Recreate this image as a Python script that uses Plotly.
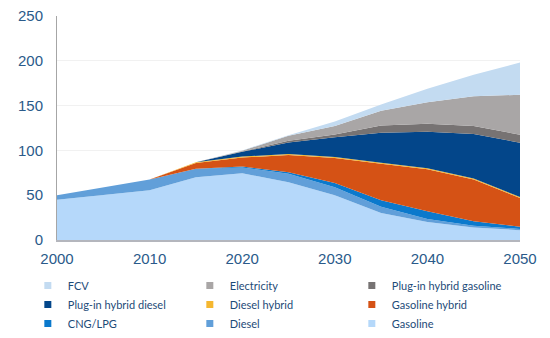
import plotly.graph_objects as go

years = [2000, 2010, 2015, 2020, 2025, 2030, 2035, 2040, 2045, 2050]

gasoline = [45, 55.5, 70, 74.5, 64.5, 50, 30, 20, 14, 11]
diesel = [5, 12, 9.5, 6.5, 9.5, 9, 7, 3.5, 2, 1.3]
cng_lpg = [0, 0, 0, 1, 1.5, 4.5, 7.5, 8.5, 5, 2.5]
gasoline_hybrid = [0, 0, 6.5, 10, 19.5, 28, 40.5, 47, 46.5, 32]
diesel_hybrid = [0, 0, 0.8, 1.1, 1.1, 1.1, 1.1, 1.1, 1.1, 1.1]
plugin_diesel = [0, 0, 0, 5.3, 12.7, 22.2, 33.7, 40.7, 49.7, 60.7]
plugin_gasoline = [0, 0, 0, 0.8, 2, 3, 8, 9, 9, 9]
electricity = [0, 0, 0, 0.5, 5.5, 9.5, 16.5, 24, 33, 44.5]
fcv = [0, 0, 0, 0.3, 0.7, 5, 7, 15, 24, 36]

x_ticks = [2000, 2010, 2020, 2030, 2040, 2050]
y_ticks = [0, 50, 100, 150, 200, 250]

# bottom-up stacking order
series = [
    ("Gasoline", gasoline, "#b5d8fa"),
    ("Diesel", diesel, "#619fd9"),
    ("CNG/LPG", cng_lpg, "#0b79cc"),
    ("Gasoline hybrid", gasoline_hybrid, "#d55215"),
    ("Diesel hybrid", diesel_hybrid, "#f5b730"),
    ("Plug-in hybrid diesel", plugin_diesel, "#03468a"),
    ("Plug-in hybrid gasoline", plugin_gasoline, "#777373"),
    ("Electricity", electricity, "#a9a6a6"),
    ("FCV", fcv, "#c3dbf1"),
]
legend_order = ["FCV", "Electricity", "Plug-in hybrid gasoline",
                "Plug-in hybrid diesel", "Diesel hybrid", "Gasoline hybrid",
                "CNG/LPG", "Diesel", "Gasoline"]

fig = go.Figure()
for name, vals, col in series:
    fig.add_trace(go.Scatter(
        x=years, y=vals, name=name, mode="lines",
        stackgroup="one", fillcolor=col,
        line=dict(width=0, color=col),
        showlegend=False, hoverinfo="x+y+name",
    ))

colors = {n: c for n, _, c in series}
for name in legend_order:
    fig.add_trace(go.Scatter(
        x=[None], y=[None], mode="markers", name=name,
        marker=dict(symbol="square", size=7, color=colors[name]),
        showlegend=True,
    ))

tick_font = dict(family="Liberation Sans, Arial, sans-serif", size=15, color="#2a5a8a")

# the page body adds an 8px offset, so the figure is 8px smaller
fig.update_layout(
    width=542, height=330,
    margin=dict(l=49, r=30, t=8, b=98, autoexpand=False),
    paper_bgcolor="white", plot_bgcolor="white",
    showlegend=True,
    legend=dict(
        orientation="h", x=-0.063, xanchor="left", y=-0.138, yanchor="top",
        entrywidth=117, entrywidthmode="pixels",
        font=dict(family="Lato, sans-serif", size=11, color="#1d4b78"),
        traceorder="normal", bgcolor="rgba(0,0,0,0)", tracegroupgap=0,
        itemwidth=30,
    ),
    xaxis=dict(
        range=[2000, 2050], tickvals=x_ticks, ticktext=[str(v) for v in x_ticks],
        showgrid=False, zeroline=False, showline=True, linecolor="#b4b6bd", linewidth=2,
        ticks="", tickfont=tick_font, ticklabelstandoff=4, automargin=False,
        ticklabeloverflow="allow",
    ),
    yaxis=dict(
        range=[0, 250], tickvals=y_ticks, ticktext=[str(v) for v in y_ticks],
        showgrid=True, gridcolor="#f1f1f1", gridwidth=1, zeroline=False,
        showline=True, linecolor="#a6a6a6", linewidth=1,
        ticks="", tickfont=tick_font, ticklabelstandoff=10, automargin=False,
        ticklabeloverflow="allow",
    ),
)

fig.write_html("out.html")
